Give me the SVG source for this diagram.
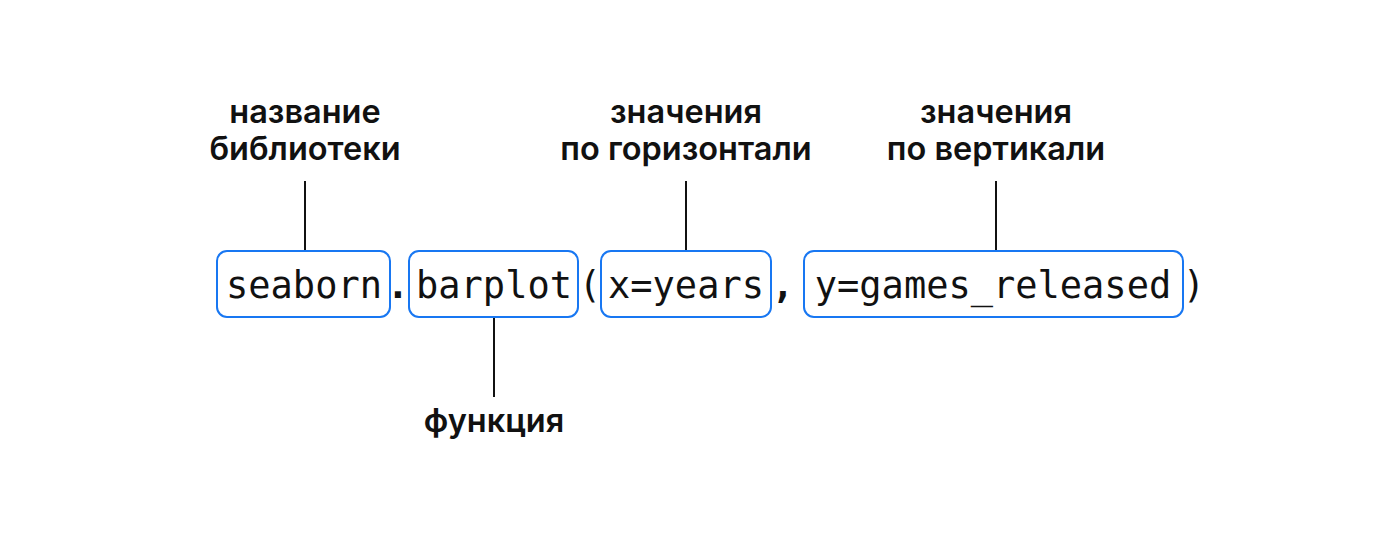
<svg xmlns="http://www.w3.org/2000/svg" width="1400" height="560" viewBox="0 0 1400 560">
<style>
.box{fill:none;stroke:#1877f2;stroke-width:2}
.code{font-family:"DejaVu Sans Mono",monospace;font-size:37px;fill:#111}
.lbl{font-family:Inter,"Noto Sans",sans-serif;font-size:32.5px;font-weight:600;fill:#111;text-anchor:middle}
.ln{stroke:#111;stroke-width:2}
</style>
<rect width="1400" height="560" fill="#fff"/>
<g id="connectors">
<line class="ln" x1="305" y1="181" x2="305" y2="251"/>
<line class="ln" x1="686" y1="181" x2="686" y2="251"/>
<line class="ln" x1="996" y1="181" x2="996" y2="251"/>
<line class="ln" x1="494" y1="317" x2="494" y2="397"/>
</g>
<g id="seaborn">
<rect class="box" x="217" y="251" width="173" height="66" rx="10"/>
<text class="code" x="304" y="298" text-anchor="middle">seaborn</text>
</g>
<g id="barplot">
<rect class="box" x="409" y="251" width="169" height="66" rx="10"/>
<text class="code" x="494" y="298" text-anchor="middle">barplot</text>
</g>
<g id="x">
<rect class="box" x="601" y="251" width="170" height="66" rx="10"/>
<text class="code" x="686" y="298" text-anchor="middle">x=years</text>
</g>
<g id="y">
<rect class="box" x="804" y="251" width="379" height="66" rx="10"/>
<text class="code" x="993" y="298" text-anchor="middle">y=games_released</text>
</g>
<g id="punct">
<text class="code" x="398" y="298" text-anchor="middle" font-weight="bold">.</text>
<text class="code" x="590" y="298" text-anchor="middle">(</text>
<text class="code" x="783" y="298" text-anchor="middle" font-weight="bold">,</text>
<text class="code" x="1194" y="298" text-anchor="middle">)</text>
</g>
<g id="lbl-lib">
<text class="lbl" x="305" y="123">название</text>
<text class="lbl" x="305" y="160">библиотеки</text>
</g>
<g id="lbl-x">
<text class="lbl" x="686" y="123">значения</text>
<text class="lbl" x="686" y="160">по горизонтали</text>
</g>
<g id="lbl-y">
<text class="lbl" x="996" y="123">значения</text>
<text class="lbl" x="996" y="160">по вертикали</text>
</g>
<g id="lbl-func">
<text class="lbl" x="494" y="432">функция</text>
</g>
</svg>
